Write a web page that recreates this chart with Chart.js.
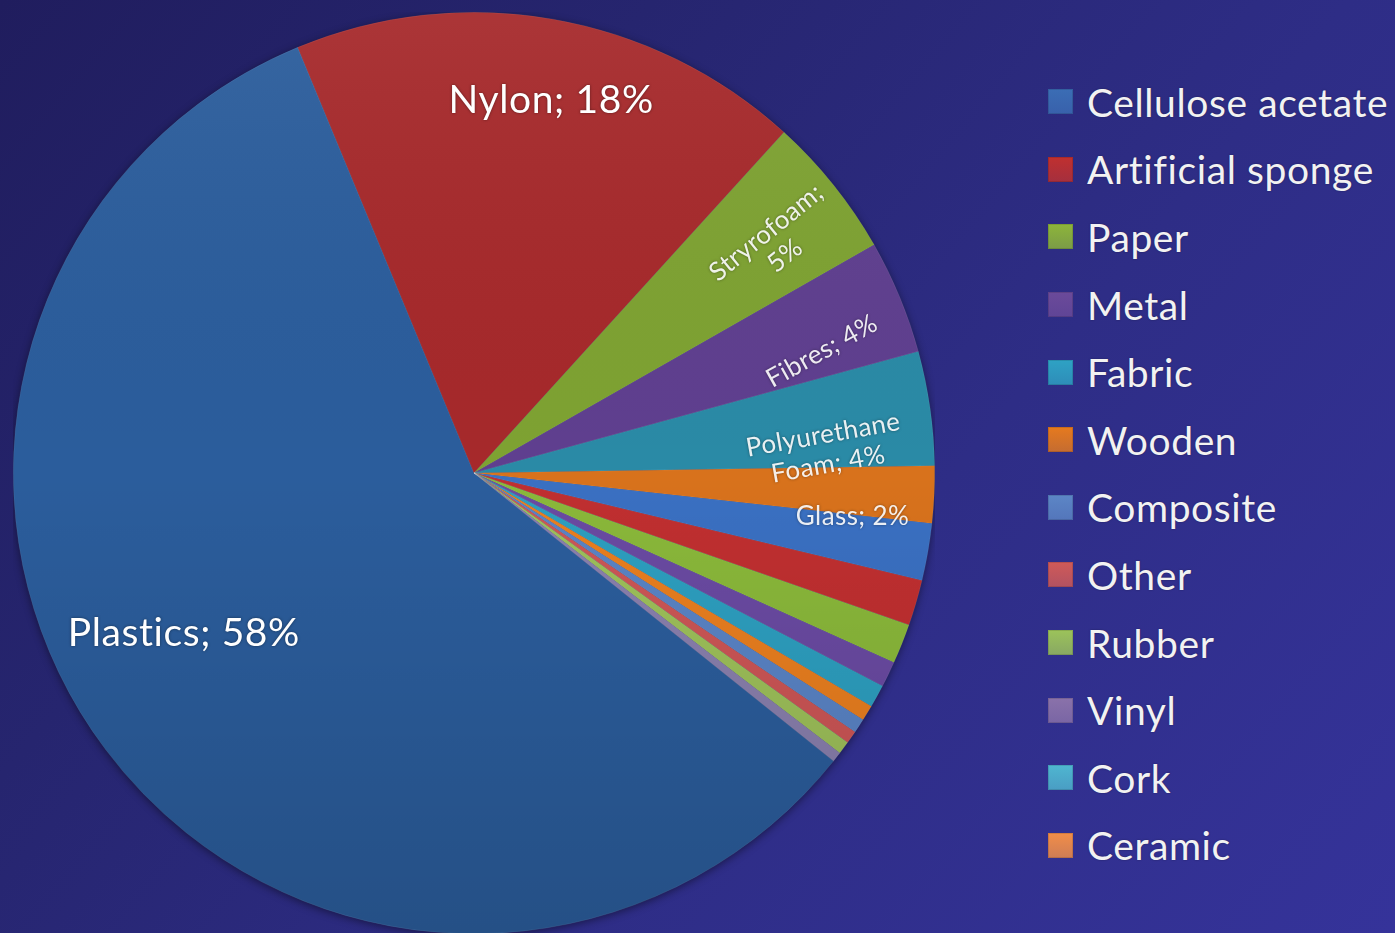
<!DOCTYPE html>
<html lang="en">
<head>
  <meta charset="UTF-8">
  <title>Materials</title>
  <script src="https://cdn.jsdelivr.net/npm/chart.js"></script>
  <style>
    html, body { margin: 0; padding: 0; }
    body {
      width: 1395px;
      height: 933px;
      overflow: hidden;
      position: relative;
      background: linear-gradient(130deg, #201d5e 0%, #26256f 30%, #2e2d86 62%, #35339a 100%);
      font-family: Lato, "Open Sans", sans-serif;
    }
    #pieBox {
      position: absolute;
      left: 13px;
      top: 12px;
      width: 922px;
      height: 922px;
    }
    #legend {
      position: absolute;
      left: 1048px;
      top: 68px;
      list-style: none;
      margin: 0;
      padding: 0;
    }
    #legend li {
      height: 67.6px;
      display: flex;
      align-items: center;
      color: #f2f2f2;
      font-size: 39px;
      letter-spacing: 0.6px;
      white-space: nowrap;
      text-shadow: 0 0 2px rgba(0,0,0,0.35);
    }
    #legend .sw {
      width: 25px;
      height: 25px;
      margin-right: 14px;
      box-shadow: inset 0 0 0 1px rgba(0,0,0,0.12);
    }
  </style>
</head>
<body>
  <div id="pieBox"><canvas id="pie"></canvas></div>
  <ul id="legend"></ul>

  <script>
    // legend entries
    const categories = ['Cellulose acetate', 'Artificial sponge', 'Paper', 'Metal', 'Fabric', 'Wooden',
                        'Composite', 'Other', 'Rubber', 'Vinyl', 'Cork', 'Ceramic'];
    const legendColors = ['#3b6db5', '#c0302f', '#8db53a', '#6b4a9a', '#2ea2c4', '#e67a1e',
                          '#5c86c6', '#d05a58', '#9cc35a', '#8a72aa', '#4fb6d0', '#f28e48'];

    // slices (percent), clockwise starting with Plastics
    const sliceNames = ['Plastics', 'Nylon', 'Stryrofoam', 'Fibres', 'Polyurethane Foam', 'Glass'];
    const shares = [58, 18, 5, 4, 4, 2, 2.0, 1.6, 1.4, 0.9, 0.8, 0.55, 0.5, 0.45, 0.45, 0.35];
    const sliceColors = ['#2b5d9c', '#a6292b', '#7ea232', '#5f3f8f', '#2a8aa6', '#d8721c',
                         '#3a70c2', '#c02f30', '#8ab83a', '#6a4aa2', '#2d9fc0', '#ea7f1f',
                         '#5a84c6', '#cd5656', '#9ec15a', '#8a80ae'];

    // where each data label sits: angle nudge (deg), radius fraction, text rotation (deg)
    const labelLayout = [
      { dAng: 7.9, r: 0.72,  rot: 0,   size: 39 },
      { dAng: 1.8, r: 0.826, rot: 0,   size: 39 },
      { dAng: 1.5, r: 0.822, rot: -39, size: 26, firstLine: 1 },
      { dAng: 3.2, r: 0.80,  rot: -29, size: 26 },
      { dAng: 4.3, r: 0.765, rot: -10, size: 26, firstLine: 1 },
      { dAng: 3.8, r: 0.827, rot: 0,   size: 26 }
    ];

    // html legend
    const legendEl = document.getElementById('legend');
    categories.forEach((name, i) => {
      const li = document.createElement('li');
      const sw = document.createElement('span');
      sw.className = 'sw';
      sw.style.background = 'linear-gradient(180deg, ' + legendColors[i] + ' 0%, ' + legendColors[i] + 'd0 100%)';
      li.appendChild(sw);
      li.appendChild(document.createTextNode(name));
      legendEl.appendChild(li);
    });

    // soft shadow behind the pie
    const pieShadow = {
      id: 'pieShadow',
      beforeDatasetsDraw(chart) {
        const arc = chart.getDatasetMeta(0).data[0];
        if (!arc) return;
        const { x, y, outerRadius } = arc.getProps(['x', 'y', 'outerRadius'], true);
        const ctx = chart.ctx;
        ctx.save();
        ctx.shadowColor = 'rgba(0,0,0,0.45)';
        ctx.shadowBlur = 8;
        ctx.shadowOffsetY = 2;
        ctx.fillStyle = '#1c2a5c';
        ctx.beginPath();
        ctx.arc(x, y, outerRadius, 0, Math.PI * 2);
        ctx.fill();
        ctx.restore();
      }
    };

    // light top, darker bottom shading over the slices, then the labels
    const pieLabels = {
      id: 'pieLabels',
      afterDatasetsDraw(chart) {
        const meta = chart.getDatasetMeta(0);
        const ctx = chart.ctx;
        const first = meta.data[0];
        const { x, y, outerRadius } = first.getProps(['x', 'y', 'outerRadius'], true);

        ctx.save();
        ctx.beginPath();
        ctx.arc(x, y, outerRadius, 0, Math.PI * 2);
        ctx.clip();
        const g = ctx.createLinearGradient(0, y - outerRadius, 0, y + outerRadius);
        g.addColorStop(0, 'rgba(255,255,255,0.06)');
        g.addColorStop(0.5, 'rgba(0,0,0,0)');
        g.addColorStop(1, 'rgba(0,0,0,0.14)');
        ctx.fillStyle = g;
        ctx.fillRect(x - outerRadius, y - outerRadius, outerRadius * 2, outerRadius * 2);
        ctx.restore();

        sliceNames.forEach((name, i) => {
          const arc = meta.data[i];
          const lay = labelLayout[i];
          const p = arc.getProps(['startAngle', 'endAngle'], true);
          const mid = (p.startAngle + p.endAngle) / 2 + lay.dAng * Math.PI / 180;
          const lx = x + Math.cos(mid) * lay.r * outerRadius;
          const ly = y + Math.sin(mid) * lay.r * outerRadius;
          const words = (name + '; ' + shares[i] + '%').split(' ');
          const lines = lay.firstLine
            ? [words.slice(0, lay.firstLine).join(' '), words.slice(lay.firstLine).join(' ')]
            : [words.join(' ')];
          const lh = lay.size * 1.15;

          ctx.save();
          ctx.translate(lx, ly);
          ctx.rotate(lay.rot * Math.PI / 180);
          ctx.font = lay.size + 'px Lato, "Open Sans", sans-serif';
          ctx.letterSpacing = lay.size > 30 ? '0.6px' : '0.4px';
          ctx.textAlign = 'center';
          ctx.textBaseline = 'middle';
          ctx.fillStyle = lay.size > 30 ? '#ffffff' : 'rgba(255,255,255,0.9)';
          ctx.shadowColor = 'rgba(0,0,0,0.45)';
          ctx.shadowBlur = 3;
          lines.forEach((t, k) => {
            ctx.fillText(t, 0, (k - (lines.length - 1) / 2) * lh);
          });
          ctx.restore();
        });
      }
    };

    new Chart(document.getElementById('pie').getContext('2d'), {
      type: 'pie',
      data: {
        labels: shares.map((v, i) => sliceNames[i] || categories[i] || ''),
        datasets: [{
          data: shares,
          backgroundColor: sliceColors,
          borderColor: 'rgba(255,255,255,0.12)',
          borderWidth: 0.6
        }]
      },
      options: {
        responsive: true,
        maintainAspectRatio: false,
        animation: false,
        rotation: 128.7,
        layout: { padding: 0 },
        plugins: {
          legend: { display: false },
          tooltip: { enabled: false }
        }
      },
      plugins: [pieShadow, pieLabels]
    });
  </script>
</body>
</html>
